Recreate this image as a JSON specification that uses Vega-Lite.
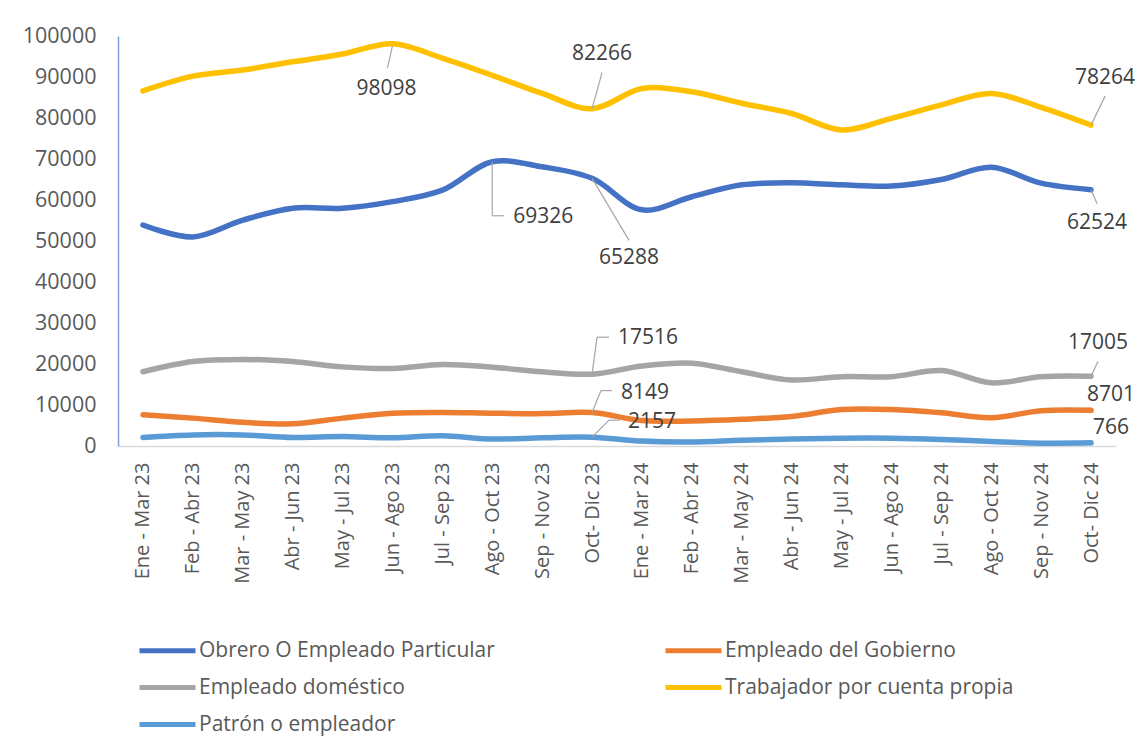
{
  "$schema": "https://vega.github.io/schema/vega-lite/v6.json",
  "width": 998,
  "height": 410,
  "autosize": "none",
  "padding": {"left": 118, "top": 36, "right": 23, "bottom": 309},
  "background": "white",
  "config": {
    "view": {"stroke": null},
    "font": "Open Sans",
    "text": {"font": "Open Sans"}
  },
  "data": {
    "values": [
      {"period": "Ene - Mar 23", "Obrero O Empleado Particular": 53900, "Empleado del Gobierno": 7600, "Empleado doméstico": 18100, "Trabajador por cuenta propia": 86600, "Patrón o empleador": 2100},
      {"period": "Feb - Abr 23", "Obrero O Empleado Particular": 51000, "Empleado del Gobierno": 6800, "Empleado doméstico": 20600, "Trabajador por cuenta propia": 90200, "Patrón o empleador": 2700},
      {"period": "Mar - May 23", "Obrero O Empleado Particular": 55100, "Empleado del Gobierno": 5800, "Empleado doméstico": 21100, "Trabajador por cuenta propia": 91700, "Patrón o empleador": 2700},
      {"period": "Abr - Jun 23", "Obrero O Empleado Particular": 58000, "Empleado del Gobierno": 5400, "Empleado doméstico": 20600, "Trabajador por cuenta propia": 93700, "Patrón o empleador": 2100},
      {"period": "May - Jul 23", "Obrero O Empleado Particular": 58000, "Empleado del Gobierno": 6800, "Empleado doméstico": 19300, "Trabajador por cuenta propia": 95600, "Patrón o empleador": 2300},
      {"period": "Jun - Ago 23", "Obrero O Empleado Particular": 59600, "Empleado del Gobierno": 8000, "Empleado doméstico": 18900, "Trabajador por cuenta propia": 98098, "Patrón o empleador": 2000},
      {"period": "Jul - Sep 23", "Obrero O Empleado Particular": 62400, "Empleado del Gobierno": 8200, "Empleado doméstico": 19900, "Trabajador por cuenta propia": 94600, "Patrón o empleador": 2500},
      {"period": "Ago - Oct 23", "Obrero O Empleado Particular": 69326, "Empleado del Gobierno": 8000, "Empleado doméstico": 19200, "Trabajador por cuenta propia": 90400, "Patrón o empleador": 1700},
      {"period": "Sep - Nov 23", "Obrero O Empleado Particular": 68100, "Empleado del Gobierno": 7900, "Empleado doméstico": 18100, "Trabajador por cuenta propia": 86000, "Patrón o empleador": 2000},
      {"period": "Oct- Dic 23", "Obrero O Empleado Particular": 65288, "Empleado del Gobierno": 8149, "Empleado doméstico": 17516, "Trabajador por cuenta propia": 82266, "Patrón o empleador": 2157},
      {"period": "Ene - Mar 24", "Obrero O Empleado Particular": 57600, "Empleado del Gobierno": 6200, "Empleado doméstico": 19500, "Trabajador por cuenta propia": 87200, "Patrón o empleador": 1200},
      {"period": "Feb - Abr 24", "Obrero O Empleado Particular": 60800, "Empleado del Gobierno": 6100, "Empleado doméstico": 20200, "Trabajador por cuenta propia": 86400, "Patrón o empleador": 1000},
      {"period": "Mar - May 24", "Obrero O Empleado Particular": 63700, "Empleado del Gobierno": 6500, "Empleado doméstico": 18100, "Trabajador por cuenta propia": 83600, "Patrón o empleador": 1400},
      {"period": "Abr - Jun 24", "Obrero O Empleado Particular": 64200, "Empleado del Gobierno": 7200, "Empleado doméstico": 16100, "Trabajador por cuenta propia": 81100, "Patrón o empleador": 1700},
      {"period": "May - Jul 24", "Obrero O Empleado Particular": 63700, "Empleado del Gobierno": 8900, "Empleado doméstico": 16900, "Trabajador por cuenta propia": 77100, "Patrón o empleador": 1900},
      {"period": "Jun - Ago 24", "Obrero O Empleado Particular": 63400, "Empleado del Gobierno": 8900, "Empleado doméstico": 16900, "Trabajador por cuenta propia": 79900, "Patrón o empleador": 1900},
      {"period": "Jul - Sep 24", "Obrero O Empleado Particular": 65000, "Empleado del Gobierno": 8100, "Empleado doméstico": 18400, "Trabajador por cuenta propia": 83200, "Patrón o empleador": 1600},
      {"period": "Ago - Oct 24", "Obrero O Empleado Particular": 68000, "Empleado del Gobierno": 6900, "Empleado doméstico": 15400, "Trabajador por cuenta propia": 86000, "Patrón o empleador": 1100},
      {"period": "Sep - Nov 24", "Obrero O Empleado Particular": 64100, "Empleado del Gobierno": 8600, "Empleado doméstico": 16900, "Trabajador por cuenta propia": 82600, "Patrón o empleador": 700},
      {"period": "Oct- Dic 24", "Obrero O Empleado Particular": 62524, "Empleado del Gobierno": 8701, "Empleado doméstico": 17005, "Trabajador por cuenta propia": 78264, "Patrón o empleador": 766}
    ]
  },
  "transform": [
    {"fold": ["Obrero O Empleado Particular", "Empleado del Gobierno", "Empleado doméstico", "Trabajador por cuenta propia", "Patrón o empleador"], "as": ["series", "value"]}
  ],
  "encoding": {
    "x": {
      "field": "period", "type": "ordinal", "sort": null,
      "scale": {"type": "point", "padding": 0.5},
      "axis": {"title": null, "labelAngle": -90, "labelAlign": "right", "labelBaseline": "middle", "labelFontSize": 20, "labelColor": "#595959", "labelPadding": 16, "labelOverlap": false, "ticks": false, "domainColor": "#D9D9D9", "domainWidth": 1.5, "grid": false}
    },
    "y": {
      "field": "value", "type": "quantitative",
      "scale": {"domain": [0, 100000], "nice": false},
      "axis": {"title": null, "values": [0,10000,20000,30000,40000,50000,60000,70000,80000,90000,100000], "format": "d", "labelOverlap": false, "labelFontSize": 21.5, "labelColor": "#595959", "labelPadding": 22, "ticks": false, "domainColor": "#7F9FD8", "domainWidth": 1.5, "grid": false}
    }
  },
  "layer": [
    {
      "mark": {"type": "line", "interpolate": "catmull-rom", "strokeWidth": 5.5, "strokeCap": "round", "strokeJoin": "round"},
      "encoding": {
        "color": {
          "field": "series", "type": "nominal",
          "scale": {"domain": ["Obrero O Empleado Particular", "Empleado doméstico", "Patrón o empleador", "Empleado del Gobierno", "Trabajador por cuenta propia"], "range": ["#4472C4", "#A5A5A5", "#5B9BD5", "#ED7D31", "#FFC000"]},
          "legend": {"title": null, "orient": "none", "legendX": 59, "legendY": 604, "columns": 2, "columnPadding": 160, "rowPadding": 15, "symbolType": "M-6,0H1", "symbolSize": 256, "symbolStrokeWidth": 5, "labelFontSize": 21, "labelColor": "#595959", "labelOffset": 1, "labelLimit": 400}
        },
        "detail": {"field": "series"}
      }
    },
    {"transform": [{"filter": "datum.period === 'Jun - Ago 23' && datum.series === 'Trabajador por cuenta propia'"}],
     "layer": [
       {"mark": {"type": "rule", "color": "#A6A6A6", "strokeWidth": 1.2, "yOffset": 2, "x2Offset": -5, "y2Offset": 24}, "encoding": {"x2": {"field": "period"}, "y2": {"field": "value"}}},
       {"mark": {"type": "text", "fontSize": 21, "color": "#404040", "dx": -6, "dy": 45}, "encoding": {"text": {"field": "value", "format": "d"}}}
     ]},
    {"transform": [{"filter": "datum.period === 'Oct- Dic 23' && datum.series === 'Trabajador por cuenta propia'"}],
     "layer": [
       {"mark": {"type": "rule", "color": "#A6A6A6", "strokeWidth": 1.2, "x2Offset": 10, "y2Offset": -36}, "encoding": {"x2": {"field": "period"}, "y2": {"field": "value"}}},
       {"mark": {"type": "text", "fontSize": 21, "color": "#404040", "dx": 10, "dy": -55}, "encoding": {"text": {"field": "value", "format": "d"}}}
     ]},
    {"transform": [{"filter": "datum.period === 'Oct- Dic 24' && datum.series === 'Trabajador por cuenta propia'"}],
     "layer": [
       {"mark": {"type": "rule", "color": "#A6A6A6", "strokeWidth": 1.2, "x2Offset": 14, "y2Offset": -29}, "encoding": {"x2": {"field": "period"}, "y2": {"field": "value"}}},
       {"mark": {"type": "text", "fontSize": 21, "color": "#404040", "dx": 14, "dy": -47}, "encoding": {"text": {"field": "value", "format": "d"}}}
     ]},
    {"transform": [{"filter": "datum.period === 'Ago - Oct 23' && datum.series === 'Obrero O Empleado Particular'"}],
     "layer": [
       {"mark": {"type": "rule", "color": "#A6A6A6", "strokeWidth": 1.2, "y2Offset": 54}, "encoding": {"x2": {"field": "period"}, "y2": {"field": "value"}}},
       {"mark": {"type": "rule", "color": "#A6A6A6", "strokeWidth": 1.2, "yOffset": 54, "x2Offset": 12, "y2Offset": 54}, "encoding": {"x2": {"field": "period"}, "y2": {"field": "value"}}},
       {"mark": {"type": "text", "fontSize": 21, "color": "#404040", "align": "left", "dx": 21, "dy": 55}, "encoding": {"text": {"field": "value", "format": "d"}}}
     ]},
    {"transform": [{"filter": "datum.period === 'Oct- Dic 23' && datum.series === 'Obrero O Empleado Particular'"}],
     "layer": [
       {"mark": {"type": "rule", "color": "#A6A6A6", "strokeWidth": 1.2, "x2Offset": 37, "y2Offset": 62}, "encoding": {"x2": {"field": "period"}, "y2": {"field": "value"}}},
       {"mark": {"type": "text", "fontSize": 21, "color": "#404040", "dx": 37, "dy": 80}, "encoding": {"text": {"field": "value", "format": "d"}}}
     ]},
    {"transform": [{"filter": "datum.period === 'Oct- Dic 24' && datum.series === 'Obrero O Empleado Particular'"}],
     "layer": [
       {"mark": {"type": "rule", "color": "#A6A6A6", "strokeWidth": 1.2, "x2Offset": 6, "y2Offset": 14}, "encoding": {"x2": {"field": "period"}, "y2": {"field": "value"}}},
       {"mark": {"type": "text", "fontSize": 21, "color": "#404040", "dx": 6, "dy": 33}, "encoding": {"text": {"field": "value", "format": "d"}}}
     ]},
    {"transform": [{"filter": "datum.period === 'Oct- Dic 23' && datum.series === 'Empleado doméstico'"}],
     "layer": [
       {"mark": {"type": "rule", "color": "#A6A6A6", "strokeWidth": 1.2, "x2Offset": 5, "y2Offset": -37}, "encoding": {"x2": {"field": "period"}, "y2": {"field": "value"}}},
       {"mark": {"type": "rule", "color": "#A6A6A6", "strokeWidth": 1.2, "xOffset": 5, "yOffset": -37, "x2Offset": 17, "y2Offset": -37}, "encoding": {"x2": {"field": "period"}, "y2": {"field": "value"}}},
       {"mark": {"type": "text", "fontSize": 21, "color": "#404040", "align": "left", "dx": 26, "dy": -36}, "encoding": {"text": {"field": "value", "format": "d"}}}
     ]},
    {"transform": [{"filter": "datum.period === 'Oct- Dic 23' && datum.series === 'Empleado del Gobierno'"}],
     "layer": [
       {"mark": {"type": "rule", "color": "#A6A6A6", "strokeWidth": 1.2, "x2Offset": 9, "y2Offset": -22}, "encoding": {"x2": {"field": "period"}, "y2": {"field": "value"}}},
       {"mark": {"type": "rule", "color": "#A6A6A6", "strokeWidth": 1.2, "xOffset": 9, "yOffset": -22, "x2Offset": 20, "y2Offset": -22}, "encoding": {"x2": {"field": "period"}, "y2": {"field": "value"}}},
       {"mark": {"type": "text", "fontSize": 21, "color": "#404040", "align": "left", "dx": 29, "dy": -20}, "encoding": {"text": {"field": "value", "format": "d"}}}
     ]},
    {"transform": [{"filter": "datum.period === 'Oct- Dic 23' && datum.series === 'Patrón o empleador'"}],
     "layer": [
       {"mark": {"type": "rule", "color": "#A6A6A6", "strokeWidth": 1.2, "x2Offset": 17, "y2Offset": -17}, "encoding": {"x2": {"field": "period"}, "y2": {"field": "value"}}},
       {"mark": {"type": "rule", "color": "#A6A6A6", "strokeWidth": 1.2, "xOffset": 17, "yOffset": -17, "x2Offset": 28, "y2Offset": -17}, "encoding": {"x2": {"field": "period"}, "y2": {"field": "value"}}},
       {"mark": {"type": "text", "fontSize": 21, "color": "#404040", "align": "left", "dx": 36, "dy": -15}, "encoding": {"text": {"field": "value", "format": "d"}}}
     ]},
    {"transform": [{"filter": "datum.period === 'Oct- Dic 24' && datum.series === 'Empleado doméstico'"}],
     "layer": [
       {"mark": {"type": "rule", "color": "#A6A6A6", "strokeWidth": 1.2, "x2Offset": 7, "y2Offset": -15}, "encoding": {"x2": {"field": "period"}, "y2": {"field": "value"}}},
       {"mark": {"type": "text", "fontSize": 21, "color": "#404040", "dx": 7, "dy": -33}, "encoding": {"text": {"field": "value", "format": "d"}}}
     ]},
    {"transform": [{"filter": "datum.period === 'Oct- Dic 24' && (datum.series === 'Empleado del Gobierno' || datum.series === 'Patrón o empleador')"}],
     "mark": {"type": "text", "fontSize": 21, "color": "#404040", "dx": 20, "dy": -15},
     "encoding": {"text": {"field": "value", "format": "d"}}}
  ]
}
